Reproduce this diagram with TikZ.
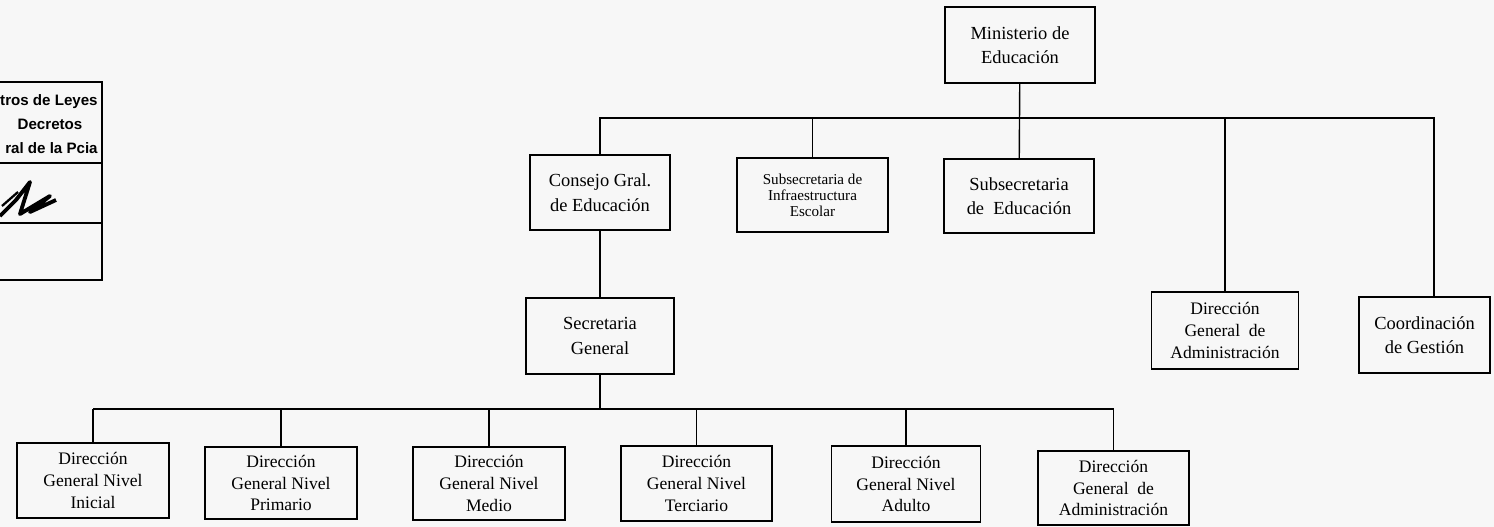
\documentclass[tikz,border=0pt]{standalone}
\usepackage{fontspec}
\setmainfont{Liberation Serif}
\newfontfamily\stampfont{Liberation Sans}

\tikzset{
	orgbox/.style={draw,line width=1.1pt,align=center,inner sep=0pt,font=\fontsize{10.5}{14}\selectfont},
	nivelbox/.style={orgbox,font=\fontsize{10}{12.5}\selectfont},
	stamptext/.style={inner sep=0pt,font=\stampfont\bfseries\fontsize{8.6}{10}\selectfont},
	link/.style={line width=0.8pt},
}

\begin{document}
\begin{tikzpicture}[x=0.02cm,y=-0.02cm]
		\useasboundingbox[fill=black!3] (0,0) rectangle (1494,527);
		\clip (0,0) rectangle (1494,527);

		% sello
		\draw[line width=1.3pt] (0,82) -- (102,82) -- (102,280) -- (0,280);
		\draw[line width=1.3pt] (0,163) -- (102,163);
		\draw[line width=1.3pt] (0,223) -- (102,223);
		\node[stamptext,anchor=east] (st1) at (98,102) {tros de Leyes};
		\node[stamptext] (st2) at (50,124) {Decretos};
		\node[stamptext,anchor=east] (st3) at (98,148) {ral de la Pcia};
		\draw[line width=2.2pt,line join=round] (0,216) -- (16,200) -- (30,182) -- (20,214) -- (50,196) -- (30,212) -- (56,200);
		\draw[line width=1.3pt] (2,206) -- (18,192);

		\node[orgbox,minimum width=3cm,minimum height=1.52cm] (min) at (1020,45) {Ministerio de\\Educación};
		\node[orgbox,minimum width=2.8cm,minimum height=1.5cm] (cons) at (600,192.5) {Consejo Gral.\\de Educación};
		\node[orgbox,minimum width=3.02cm,minimum height=1.48cm,font=\fontsize{8.6}{9.2}\selectfont] (infra) at (812.5,195) {Subsecretaria de\\Infraestructura\\Escolar};
		\node[orgbox,minimum width=3cm,minimum height=1.48cm] (subed) at (1019,196) {Subsecretaria\\de \ Educación};
		\node[nivelbox,minimum width=2.94cm,minimum height=1.54cm] (dga) at (1225,330.5) {Dirección\\General \ de\\Administración};
		\node[orgbox,minimum width=2.62cm,minimum height=1.52cm] (coor) at (1424.5,335) {Coordinación\\de Gestión};
		\node[orgbox,minimum width=2.96cm,minimum height=1.52cm] (sec) at (600,336) {Secretaria\\General};

		\node[nivelbox,minimum width=3.04cm,minimum height=1.5cm] (ini) at (93,480.5) {Dirección\\General Nivel\\Inicial};
		\node[nivelbox,minimum width=3.04cm,minimum height=1.44cm] (pri) at (281,483) {Dirección\\General Nivel\\Primario};
		\node[nivelbox,minimum width=3.04cm,minimum height=1.46cm] (med) at (489,483.5) {Dirección\\General Nivel\\Medio};
		\node[nivelbox,minimum width=3.02cm,minimum height=1.5cm] (ter) at (696.5,483.5) {Dirección\\General Nivel\\Terciario};
		\node[nivelbox,minimum width=2.98cm,minimum height=1.52cm] (adu) at (906,484) {Dirección\\General Nivel\\Adulto};
		\node[nivelbox,minimum width=3.02cm,minimum height=1.48cm] (adm) at (1113.5,488) {Dirección\\General \ de\\Administración};

		\coordinate (jTop) at (0,118);
		\coordinate (kCoor) at (1434,118);
		\coordinate (jBot) at (0,409);

		\draw[link] (min) -- (subed);
		\draw[link] (cons.north) -- (cons.north |- jTop) -- (kCoor) -- (kCoor |- coor.north);
		\foreach \n in {infra,dga}
			\draw[link] (\n.north) -- (\n.north |- jTop);
		\draw[link] (cons) -- (sec);

		\draw[link] (sec.south) -- (sec.south |- jBot);
		\draw[link] (ini.north |- jBot) -- (adm.north |- jBot);
		\foreach \n in {ini,pri,med,ter,adu,adm}
			\draw[link] (\n.north) -- (\n.north |- jBot);
	\end{tikzpicture}
\end{document}
